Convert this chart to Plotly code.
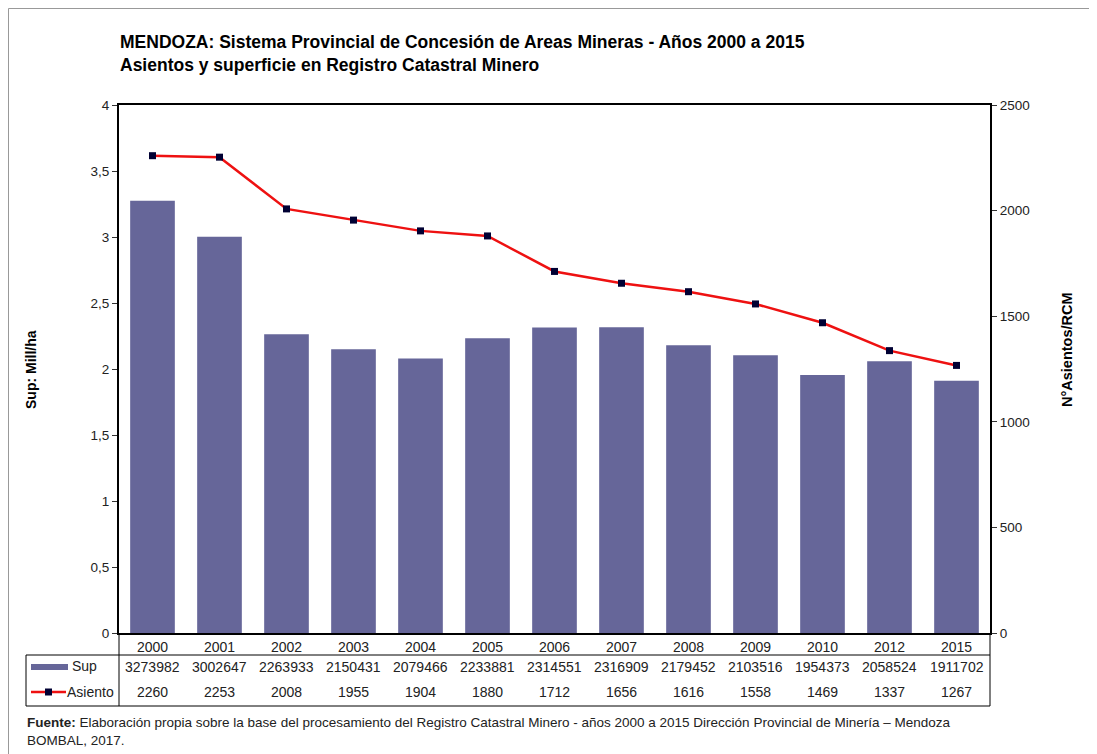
import plotly.graph_objects as go

years = ["2000", "2001", "2002", "2003", "2004", "2005", "2006", "2007", "2008", "2009", "2010", "2012", "2015"]
sup = [3273982, 3002647, 2263933, 2150431, 2079466, 2233881, 2314551, 2316909, 2179452, 2103516, 1954373, 2058524, 1911702]
asiento = [2260, 2253, 2008, 1955, 1904, 1880, 1712, 1656, 1616, 1558, 1469, 1337, 1267]
left_ticks = [0, 0.5, 1, 1.5, 2, 2.5, 3, 3.5, 4]
right_ticks = [0, 500, 1000, 1500, 2000, 2500]

OFF = 8                      # page body margin
W, H = 1097 - OFF, 754 - OFF
Lp, Rp, Tp, Bp = 119, 990, 105, 633   # plot area in page pixels
PW, PH = Rp - Lp, Bp - Tp


def px(x):
    return (x - Lp) / PW


def py(y):
    return (Bp - y) / PH


FONT = "Liberation Sans, Arial, sans-serif"
BAR = "#666699"
RED = "#ee1111"
TXT = "#222222"

fig = go.Figure()
fig.add_trace(go.Bar(x=years, y=[v / 1e6 for v in sup], name="Sup",
                     marker=dict(color=BAR, line=dict(width=0)), yaxis="y"))
fig.add_trace(go.Scatter(x=years, y=asiento, name="Asiento", mode="lines+markers",
                         line=dict(color=RED, width=2.5),
                         marker=dict(symbol="square", size=7, color="#000033"),
                         yaxis="y2"))

fig.update_layout(
    width=W, height=H,
    margin=dict(l=Lp - OFF, r=W - (Rp - OFF), t=Tp - OFF, b=H - (Bp - OFF)),
    paper_bgcolor="white", plot_bgcolor="white",
    showlegend=False,
    bargap=1/3,
    separators=",.",
    font=dict(family=FONT, size=13, color=TXT),
    xaxis=dict(type="category", range=[-0.5, len(years) - 0.5],
               showline=True, linecolor="black", linewidth=2, mirror=True,
               ticks="", showgrid=False, tickfont=dict(size=14, color=TXT)),
    yaxis=dict(range=[0, 4], tickvals=left_ticks, showgrid=False, zeroline=False,
               showline=True, linecolor="black", linewidth=2,
               ticks="outside", ticklen=5, tickcolor="#333", tickfont=dict(size=13.5, color=TXT)),
    yaxis2=dict(range=[0, 2500], tickvals=right_ticks, overlaying="y", side="right",
                showgrid=False, zeroline=False,
                showline=True, linecolor="black", linewidth=2,
                ticks="outside", ticklen=5, tickcolor="#333", tickfont=dict(size=13.5, color=TXT)),
)

shapes = []
line_k = dict(color="black", width=1)
# data table borders
shapes.append(dict(type="line", xref="paper", yref="paper", x0=px(Lp), x1=px(Lp), y0=py(Bp), y1=py(706), line=line_k))
shapes.append(dict(type="line", xref="paper", yref="paper", x0=px(Rp), x1=px(Rp), y0=py(Bp), y1=py(706), line=line_k))
shapes.append(dict(type="line", xref="paper", yref="paper", x0=px(26), x1=px(Rp), y0=py(655), y1=py(655), line=line_k))
shapes.append(dict(type="line", xref="paper", yref="paper", x0=px(26), x1=px(Rp), y0=py(706), y1=py(706), line=line_k))
shapes.append(dict(type="line", xref="paper", yref="paper", x0=px(26), x1=px(26), y0=py(655), y1=py(706), line=line_k))
# legend keys
shapes.append(dict(type="rect", xref="paper", yref="paper", x0=px(31), x1=px(68), y0=py(664), y1=py(670),
                   fillcolor=BAR, line=dict(width=0)))
shapes.append(dict(type="line", xref="paper", yref="paper", x0=px(31), x1=px(66), y0=py(692), y1=py(692),
                   line=dict(color=RED, width=2.5)))
shapes.append(dict(type="rect", xref="paper", yref="paper", x0=px(45), x1=px(52), y0=py(688.5), y1=py(695.5),
                   fillcolor="#000033", line=dict(width=0)))
# outer frame
shapes.append(dict(type="line", xref="paper", yref="paper", x0=px(8.5), x1=px(8.5), y0=py(8.5), y1=py(770),
                   line=dict(color="#999999", width=1)))
shapes.append(dict(type="line", xref="paper", yref="paper", x0=px(8.5), x1=px(1110), y0=py(8.5), y1=py(8.5),
                   line=dict(color="#999999", width=1)))
fig.update_layout(shapes=shapes)

ann = []
for i, (s, a) in enumerate(zip(sup, asiento)):
    ann.append(dict(x=i, xref="x", y=py(667), yref="paper", text=str(s), showarrow=False,
                    font=dict(size=14, color=TXT), xanchor="center", yanchor="middle"))
    ann.append(dict(x=i, xref="x", y=py(692), yref="paper", text=str(a), showarrow=False,
                    font=dict(size=14, color=TXT), xanchor="center", yanchor="middle"))
ann.append(dict(x=px(70), y=py(666), xref="paper", yref="paper", text="Sup", showarrow=False,
                xanchor="left", yanchor="middle", font=dict(size=14, color=TXT)))
ann.append(dict(x=px(65), y=py(692), xref="paper", yref="paper", text="Asiento", showarrow=False,
                xanchor="left", yanchor="middle", font=dict(size=14, color=TXT)))
# title
ann.append(dict(x=px(118), y=py(54), xref="paper", yref="paper", showarrow=False,
                xanchor="left", yanchor="middle", align="left",
                text="<b>MENDOZA: Sistema Provincial de Concesión de Areas Mineras - Años 2000 a 2015<br>"
                     "Asientos y superficie en Registro Catastral Minero</b>",
                font=dict(family=FONT, size=17.5, color="black")))
# axis titles
ann.append(dict(x=px(31), y=py(370), xref="paper", yref="paper", showarrow=False, textangle=-90,
                text="<b>Sup: Mill/ha</b>", font=dict(size=14, color="black"),
                xanchor="center", yanchor="middle"))
ann.append(dict(x=px(1067), y=py(350), xref="paper", yref="paper", showarrow=False, textangle=-90,
                text="<b>N°Asientos/RCM</b>", font=dict(size=14.5, color="black"),
                xanchor="center", yanchor="middle"))
# footer
ann.append(dict(x=px(25), y=py(731), xref="paper", yref="paper", showarrow=False,
                xanchor="left", yanchor="middle", align="left",
                text="<b>Fuente:</b> Elaboración propia sobre la base del procesamiento del Registro Catastral Minero - años 2000 a 2015 Dirección Provincial de Minería – Mendoza<br>BOMBAL, 2017.",
                font=dict(size=13.5, color=TXT)))
fig.update_layout(annotations=ann)

fig.write_html("out.html")
